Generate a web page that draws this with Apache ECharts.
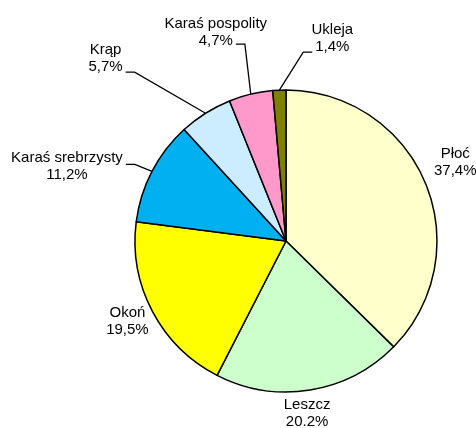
<!DOCTYPE html>
<html>
<head>
<meta charset="utf-8">
<script src="https://cdn.jsdelivr.net/npm/echarts@6/dist/echarts.min.js"></script>
<style>
  html, body { margin: 0; padding: 0; background: #fff; }
  #chart { width: 476px; height: 428px; }
</style>
</head>
<body>
<div id="chart"></div>
<script>
// gatunki ryb (kolejność zgodnie z ruchem wskazówek zegara od góry)
var species = ['Płoć', 'Leszcz', 'Okoń', 'Karaś srebrzysty', 'Krąp', 'Karaś pospolity', 'Ukleja']
var shares = [37.4, 20.2, 19.5, 11.2, 5.7, 4.7, 1.4]
var shareLabels = ['37,4%', '20.2%', '19,5%', '11,2%', '5,7%', '4,7%', '1,4%']
var colors = ['#FFFFCC', '#CCFFCC', '#FFFF00', '#00B0F0', '#CCECFF', '#FF99CC', '#808000']

// przesunięcie środka etykiety względem krawędzi wycinka [dx, dy, przesunięcie linii w pionie]
var labelShift = [[30, -20, 0], [-3, 23, 0], [-25, 10, 0], [-85, -5, -2], [-100, -55, 14], [-35, -62, 12], [53, -52, 14]]
var showLine = [false, false, false, true, true, true, true]

var CX = 286, CY = 241, R = 151
var FONT = 'Liberation Sans, Arial, sans-serif'

var chart = echarts.init(document.getElementById('chart'))

// szerokość pojedynczej linii tekstu etykiety
var ctx = document.createElement('canvas').getContext('2d')
ctx.font = '15px ' + FONT
function textWidth(s) { return ctx.measureText(s).width }

var total = shares.reduce(function (a, b) { return a + b }, 0)
var midAngles = []
var acc = 0
shares.forEach(function (v) {
  midAngles.push(-Math.PI / 2 + 2 * Math.PI * (acc + v / 2) / total)
  acc += v
})

var seriesData = species.map(function (name, i) {
  return {
    name: name,
    value: shares[i],
    itemStyle: { color: colors[i] },
    label: { formatter: '{a|' + name + '}\n{a|' + shareLabels[i] + '}' },
    labelLine: { show: showLine[i] }
  }
})

chart.setOption({
  animation: false,
  series: [{
    type: 'pie',
    center: [CX, CY],
    radius: R,
    startAngle: 90,
    clockwise: true,
    avoidLabelOverlap: false,
    data: seriesData,
    itemStyle: {
      borderColor: '#000',
      borderWidth: 1.5
    },
    label: {
      position: 'outside',
      color: '#000',
      fontFamily: FONT,
      fontSize: 15,
      lineHeight: 17,
      rich: {
        a: { align: 'center', fontSize: 15, lineHeight: 17, color: '#000', fontFamily: FONT }
      }
    },
    labelLine: {
      length: 10,
      length2: 10,
      lineStyle: { color: '#000', width: 1.3 }
    },
    emphasis: { disabled: true },
    labelLayout: function (params) {
      var i = params.dataIndex
      var ex = CX + R * Math.cos(midAngles[i])
      var ey = CY + R * Math.sin(midAngles[i])
      var sh = labelShift[i]
      var lx = ex + sh[0]
      var ly = ey + sh[1]
      var res = { x: lx, y: ly, align: 'center', verticalAlign: 'middle', hideOverlap: false }
      if (showLine[i]) {
        var side = lx < ex ? 1 : -1
        var w = textWidth(sh[2] > 0 ? shareLabels[i] : species[i])
        var endX = lx + side * (w / 2 + 3)
        var lineY = ly + sh[2]
        res.labelLinePoints = [[ex, ey], [endX + side * 9, lineY], [endX, lineY]]
      }
      return res
    }
  }]
})
</script>
</body>
</html>
